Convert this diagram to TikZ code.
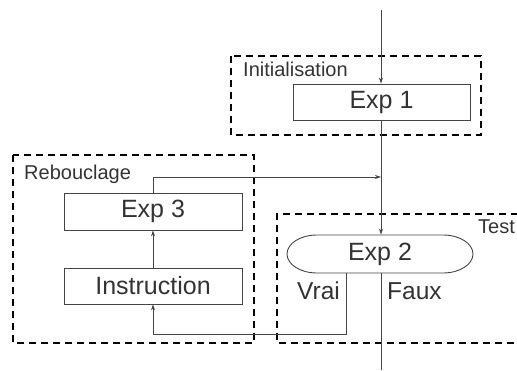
\documentclass[tikz,border=0pt]{standalone}
\usepackage{fontspec}
\setmainfont{Liberation Sans}
\usetikzlibrary{arrows.meta}
\definecolor{ink}{HTML}{333333}
\definecolor{wire}{HTML}{444444}
\tikzset{
  block/.style={draw=wire, line width=0.9pt, text=ink, inner sep=0pt,
    font=\fontsize{25}{29}\selectfont},
  region/.style={draw=black, line width=1.8pt, dash pattern=on 7pt off 5pt},
  regionlabel/.style={text=ink, inner sep=0pt, font=\fontsize{20}{24}\selectfont},
  branchlabel/.style={text=ink, inner sep=0pt, font=\fontsize{24.5}{29}\selectfont},
  flow/.style={draw=wire, line width=0.9pt},
  arrowflow/.style={flow, -{Stealth[length=6pt,width=4pt]}},
}
\begin{document}
\begin{tikzpicture}[x=1pt,y=-1pt]
  \useasboundingbox (0,0) rectangle (517,371);

  % grouping regions
  \draw[region] (231,56) rectangle (481,135);
  \draw[region] (13,155) rectangle (254,343);
  \draw[region] (530,214) -- (277,214) -- (277,343) -- (530,343);

  \node[regionlabel, anchor=base west] (linit) at (243,77) {Initialisation};
  \node[regionlabel, anchor=base west] (lreb) at (24,180) {Rebouclage};
  \node[regionlabel, anchor=base east] (ltest) at (515,234) {Test};

  % blocks
  \node[block, minimum width=177pt, minimum height=36pt] (exp1) at (381.5,102) {Exp 1};
  \node[block, minimum width=178pt, minimum height=37pt] (exp3) at (153,211.5) {Exp 3};
  \node[block, minimum width=178pt, minimum height=36pt] (instr) at (153,286) {Instruction};
  \node[block, draw=none, minimum width=186pt, minimum height=38pt] (exp2) at (380,254) {Exp 2};
  % test outline: flat top and bottom with half-elliptical ends
  \begin{scope}[shift={(exp2.center)}]
    \draw[flow] (-63,-19) -- (63,-19)
      .. controls (79.6,-19) and (93,-10.5) .. (93,0)
      .. controls (93,10.5) and (79.6,19) .. (63,19)
      -- (-63,19)
      .. controls (-79.6,19) and (-93,10.5) .. (-93,0)
      .. controls (-93,-10.5) and (-79.6,-19) .. (-63,-19) -- cycle;
  \end{scope}

  \node[branchlabel, anchor=base west] (lvrai) at (297,300) {Vrai};
  \node[branchlabel, anchor=base west] (lfaux) at (387,300) {Faux};

  % free ends and corners of connectors
  \coordinate (entry) at (381,10);
  \coordinate (exit) at (381,370);
  \coordinate (join) at (381,177);
  \coordinate (loop) at (346,334);

  % connectors
  \draw[arrowflow] (entry) -- (entry |- exp1.north);
  \draw[arrowflow] (exp1.south -| entry) -- (exp2.north -| entry);
  \draw[flow] (exp2.south -| exit) -- (exit);
  \draw[arrowflow] (exp3.north) |- (join);
  \draw[arrowflow] (exp2.south -| loop) -- (loop) -| (instr.south);
  \draw[arrowflow] (instr.north) -- (exp3.south);
\end{tikzpicture}
\end{document}
